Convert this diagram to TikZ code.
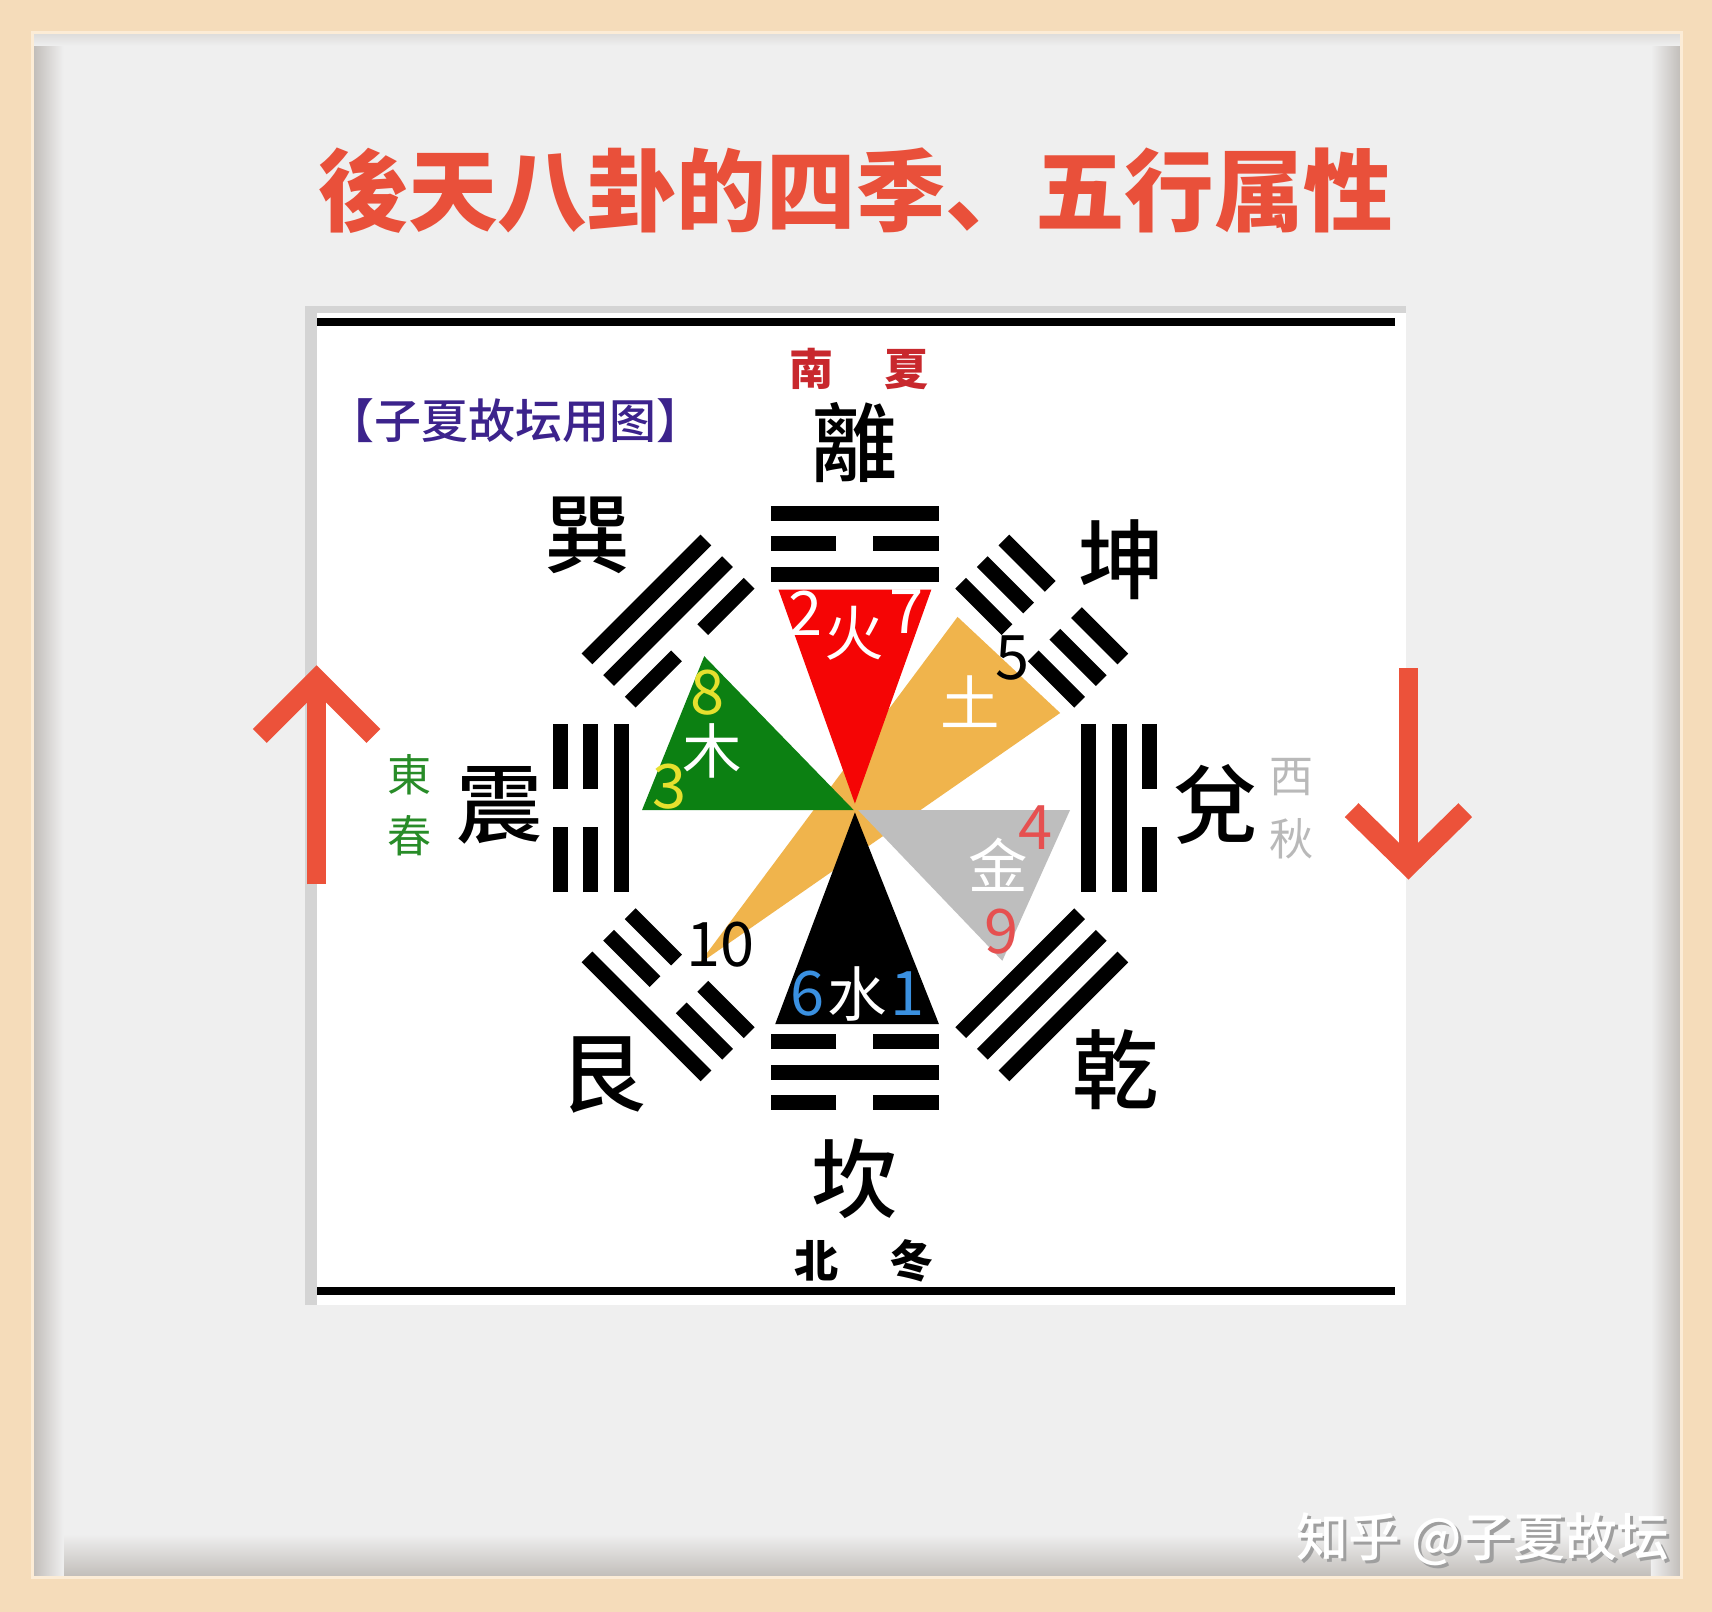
\documentclass[tikz,border=0pt]{standalone}
\usepackage{fontspec}
\newfontfamily\cjk{Noto Sans CJK SC}
\newfontfamily\cjkm{Noto Sans CJK SC Medium}
\definecolor{wood}{RGB}{245,220,186}
\definecolor{woodlight}{RGB}{252,236,214}
\definecolor{panelgray}{RGB}{239,239,239}
\definecolor{shadowgray}{RGB}{192,188,184}
\definecolor{bordergray}{RGB}{212,212,212}
\definecolor{titlered}{RGB}{233,80,58}
\definecolor{arrowred}{RGB}{236,82,58}
\definecolor{creditpurple}{RGB}{60,35,140}
\definecolor{southred}{RGB}{200,40,45}
\definecolor{eastgreen}{RGB}{40,140,40}
\definecolor{westgray}{RGB}{185,185,185}
\definecolor{firered}{RGB}{245,5,5}
\definecolor{woodgreen}{RGB}{12,128,18}
\definecolor{earthorange}{RGB}{240,180,76}
\definecolor{metalgray}{RGB}{190,190,190}
\definecolor{numyellow}{RGB}{230,224,46}
\definecolor{numred}{RGB}{230,80,80}
\definecolor{numblue}{RGB}{58,144,224}
\newcommand\gua[2]{%
  \begin{scope}[shift={(783,740)}, rotate=#1]
    \foreach \c [count=\i] in {#2} {
      \pgfmathsetmacro\rr{186+28*\i}
      \ifnum\c=1
        \draw[yaoline] (\rr,-77) -- (\rr,77);
      \else
        \draw[yaoline] (\rr,-77) -- (\rr,-17) (\rr,17) -- (\rr,77);
      \fi
    }
  \end{scope}}
\begin{document}
\begin{tikzpicture}[x=0.02cm,y=-0.02cm,
  yaoline/.style={black, line width=7.94pt, line cap=butt},
  bigch/.style={font=\cjkm\fontsize{45}{48}\selectfont, text=black, inner sep=0pt},
  seas/.style={font=\cjk\bfseries\fontsize{23}{25}\selectfont, inner sep=0pt},
  seasl/.style={font=\cjk\fontsize{23}{25}\selectfont, inner sep=0pt},
  num/.style={font=\cjk\fontsize{32}{34}\selectfont, inner sep=0pt},
  elem/.style={font=\cjk\fontsize{31}{33}\selectfont, text=white, inner sep=0pt},
  arrowline/.style={arrowred, line width=10.2pt, line cap=butt, line join=miter, miter limit=10}]
\useasboundingbox (0,0) rectangle (1568,1476);
% frame and panel
\fill[wood] (0,0) rectangle (1568,1476);
\fill[panelgray] (30,30) rectangle (1540,1445);
\shade[top color=panelgray, bottom color=shadowgray] (30,1405) rectangle (1540,1445);
\shade[left color=shadowgray, right color=panelgray] (30,30) rectangle (58,1445);
\shade[left color=panelgray, right color=shadowgray] (1512,30) rectangle (1540,1445);
\shade[top color=shadowgray!40!panelgray, bottom color=panelgray] (30,30) rectangle (1540,42);
\draw[woodlight, line width=1.5pt] (30,30) rectangle (1540,1445);
% title
\node[font=\cjk\bfseries\fontsize{46.7}{50}\selectfont, text=titlered] (title) at (784,175) {後天八卦的四季、五行属性};
% white picture panel
\fill[bordergray] (279,280) rectangle (1288,1195);
\fill[white] (290,287) rectangle (1288,1195);
\fill[black] (290,291) rectangle (1278,299);
\fill[black] (290,1179) rectangle (1278,1186);
\node[font=\cjkm\fontsize{24.5}{27}\selectfont, text=creditpurple] (credit) at (472,385) {【子夏故坛用图】};
% five-element shapes
\fill[earthorange] (640,883) -- (877,565) -- (971,653) -- cycle;
\fill[firered] (713,540) -- (853,540) -- (783,736) -- cycle;
\fill[woodgreen] (645,601) -- (588,742) -- (782,742) -- cycle;
\fill[metalgray] (786,742) -- (980,742) -- (918,880) -- cycle;
\fill[black] (783,744) -- (710,938) -- (860,938) -- cycle;
% labels in shapes
\node[num, text=white] (n2) at (738,562) {2};
\node[elem] (fire) at (782,580) {火};
\node[num, text=white] (n7) at (830,560) {7};
\node[num, text=numyellow] (n8) at (648,634) {8};
\node[elem] (wood) at (652,688) {木};
\node[num, text=numyellow] (n3) at (613,720) {3};
\node[elem] (earth) at (889,643) {土};
\node[num, text=black] (n5) at (927,603) {5};
\node[num, text=numred] (n4) at (948,758) {4};
\node[elem] (metal) at (914,792) {金};
\node[num, text=numred] (n9) at (917,853) {9};
\node[num, text=numblue] (n6) at (740,910) {6};
\node[elem] (water) at (785,910) {水};
\node[num, text=numblue] (n1) at (831,910) {1};
\node[num, text=black] (n10) at (660,865) {10};
% trigrams (inner -> outer)
\gua{0}{1,1,0}
\gua{45}{0,0,0}
\gua{90}{1,0,1}
\gua{135}{0,1,1}
\gua{180}{1,0,0}
\gua{225}{0,0,1}
\gua{270}{0,1,0}
\gua{315}{1,1,1}
% trigram names
\node[bigch] (li) at (783,405) {離};
\node[bigch] (xun) at (538,490) {巽};
\node[bigch] (kun) at (1027,513) {坤};
\node[bigch] (zhen) at (458,738) {震};
\node[bigch] (dui) at (1113,737) {兌};
\node[bigch] (gen) at (552,985) {艮};
\node[bigch] (qian) at (1022,980) {乾};
\node[bigch] (kan) at (783,1080) {坎};
% directions and seasons
\node[seas, text=southred] (south) at (743,338) {南};
\node[seas, text=southred] (summer) at (830,338) {夏};
\node[seas, text=black] (north) at (748,1155) {北};
\node[seas, text=black] (winter) at (835,1155) {冬};
\node[seasl, text=eastgreen] (east) at (375,710) {東};
\node[seasl, text=eastgreen] (spring) at (375,765) {春};
\node[seasl, text=westgray] (west) at (1183,712) {西};
\node[seasl, text=westgray] (autumn) at (1183,768) {秋};
% arrows
\coordinate (lupbot) at (290,810);
\coordinate (luptip) at (290,622);
\draw[arrowline] (lupbot) -- (luptip);
\draw[arrowline] (238,674) -- (luptip) -- (342,674);
\coordinate (rdntop) at (1290,612);
\coordinate (rdntip) at (1290,793);
\draw[arrowline] (rdntop) -- (rdntip);
\draw[arrowline] (1238,742) -- (rdntip) -- (1342,742);
% watermark
\node[font=\cjkm\fontsize{27}{30}\selectfont, text=gray!75] (wmshadow) at (1361,1413) {知乎 @子夏故坛};
\node[font=\cjkm\fontsize{27}{30}\selectfont, text=white] (wm) at (1358,1410) {知乎 @子夏故坛};
\end{tikzpicture}
\end{document}
